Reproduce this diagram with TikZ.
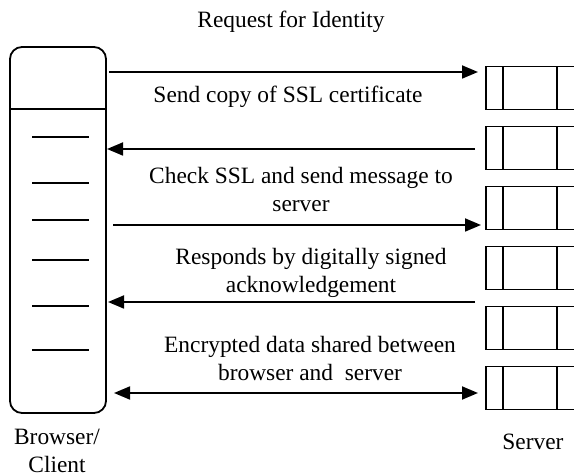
\documentclass[tikz,border=0pt]{standalone}
\usepackage{fontspec}
\setmainfont{Liberation Serif}
\usetikzlibrary{arrows.meta,positioning}

\tikzset{
  lbl/.style={font=\fontsize{11.7}{14}\selectfont, align=center, inner sep=0pt},
  srv/.style={draw, line width=0.9pt, minimum width=47pt, minimum height=21.5pt, inner sep=0pt,
    path picture={
      \draw[line width=0.9pt] ([xshift=8.5pt]path picture bounding box.north west) -- ([xshift=8.5pt]path picture bounding box.south west);
      \draw[line width=0.9pt] ([xshift=35.5pt]path picture bounding box.north west) -- ([xshift=35.5pt]path picture bounding box.south west);
    }},
}

\begin{document}
\begin{tikzpicture}[x=0.5pt, y=-0.5pt, node distance=30pt, line width=0.9pt,
    >={Triangle[length=8pt,width=6.5pt]}]
        \useasboundingbox (0,0) rectangle (574,476);

        % browser / client
        \node[draw, rounded corners=6pt, minimum width=48pt, minimum height=183pt] (client) at (58,230) {};
        \draw (client.west |- 0,109) -- (client.east |- 0,109);
        \foreach \y in {137,183,220,260,306,350}
            \draw (32,\y) -- (89,\y);
        \node[lbl] (clientlbl) at (57,451) {Browser/\\Client};

        % server
        \node[srv] (s1) at (533,88) {};
        \node[srv, below of=s1] (s2) {};
        \node[srv, below of=s2] (s3) {};
        \node[srv, below of=s3] (s4) {};
        \node[srv, below of=s4] (s5) {};
        \node[srv, below of=s5] (s6) {};
        \node[lbl] (srvlbl) at (533,442) {Server};

        % message ends
        \coordinate (c1) at (109,72);  \coordinate (e1) at (478,72);
        \coordinate (c2) at (107,149); \coordinate (e2) at (475,149);
        \coordinate (c3) at (113,225); \coordinate (e3) at (481,225);
        \coordinate (c4) at (108,302); \coordinate (e4) at (475,302);
        \coordinate (c5) at (114,393); \coordinate (e5) at (478,393);

        \path [draw]
        (c1) edge[->] (e1)
        (e2) edge[->] (c2)
        (c3) edge[->] (e3)
        (e4) edge[->] (c4)
        (c5) edge[<->] (e5);

        % messages
        \node[lbl] (req) at (291,22) {Request for Identity};
        \node[lbl] (cert) at (288,97) {Send copy of SSL certificate};
        \node[lbl] (chk) at (301,189) {Check SSL and send message to\\server};
        \node[lbl] (rsp) at (311,273) {Responds by digitally signed\\acknowledgement};
        \node[lbl] (enc) at (310,358) {Encrypted data shared between\\browser and \ server};
    \end{tikzpicture}
\end{document}
